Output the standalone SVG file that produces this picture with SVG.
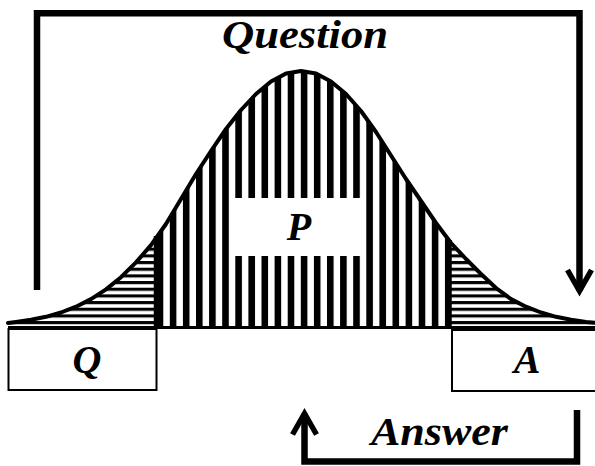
<svg xmlns="http://www.w3.org/2000/svg" xmlns:xlink="http://www.w3.org/1999/xlink" width="595" height="466" viewBox="0 0 595 466">
  <style>
    .lbl { font-family: "Liberation Serif", "Times New Roman", serif; font-weight: bold; font-style: italic; fill: #000; text-anchor: middle; }
    .conn { fill: none; stroke: #000; stroke-width: 6.5; stroke-linejoin: miter; stroke-linecap: butt; }
    .box { fill: #fff; stroke: #000; stroke-width: 2; }
    .edge { stroke: #000; stroke-width: 5.5; }
    .curve { fill: none; stroke: #000; stroke-width: 4; stroke-linejoin: round; stroke-linecap: round; }
  </style>
  <defs>
    <pattern id="vstripes" patternUnits="userSpaceOnUse" x="156.7" y="0" width="13.1" height="10">
      <rect x="0" y="0" width="6.6" height="10" fill="#000"/>
    </pattern>
    <pattern id="hstripes" patternUnits="userSpaceOnUse" x="0" y="247.7" width="10" height="6.67">
      <rect x="0" y="0" width="10" height="3.1" fill="#000"/>
    </pattern>
    <polygon id="area" points="8,323 16,322 31,319.8 46,316.8 61,312.5 76,306.7 91,299.1 106,289.4 121,277.2 136,262.4 151,245.1 166,224 181,199 196,174 211,151 226,129 241,110 256,94 271,81.5 286,73.5 301,71 316,73.5 331,81.5 346,94 361,111 376,132 391,155.5 406,179 421,201 436,223 451,243 466,259 481,274 496,288 511,299.1 526,306.7 541,312.5 556,316.8 571,319.8 586,322 601,323.4 601,328 8,328"/>
    <clipPath id="areaClip"><use xlink:href="#area"/></clipPath>
    <marker id="chev" markerUnits="userSpaceOnUse" viewBox="-28 -16 36 32" markerWidth="36" markerHeight="32" refX="0" refY="0" orient="auto">
      <path d="M -21 -12 L 0 0 L -21 12" fill="none" stroke="#000" stroke-width="5.5" stroke-linejoin="miter"/>
    </marker>
  </defs>

  <rect x="0" y="0" width="595" height="466" fill="#fff"/>

  <g id="distribution">
    <g clip-path="url(#areaClip)">
      <rect x="157" y="60" width="293" height="270" fill="url(#vstripes)"/>
      <rect x="8" y="200" width="149" height="130" fill="url(#hstripes)"/>
      <rect x="450" y="200" width="150" height="130" fill="url(#hstripes)"/>
    </g>
    <line class="edge" x1="156.5" y1="236" x2="156.5" y2="328"/>
    <line class="edge" x1="449" y1="240" x2="449" y2="328"/>
    <polyline class="curve" points="8,323 16,322 31,319.8 46,316.8 61,312.5 76,306.7 91,299.1 106,289.4 121,277.2 136,262.4 151,245.1 166,224 181,199 196,174 211,151 226,129 241,110 256,94 271,81.5 286,73.5 301,71 316,73.5 331,81.5 346,94 361,111 376,132 391,155.5 406,179 421,201 436,223 451,243 466,259 481,274 496,288 511,299.1 526,306.7 541,312.5 556,316.8 571,319.8 586,322 601,323.4"/>
    <line x1="8" y1="327.5" x2="595" y2="327.5" stroke="#000" stroke-width="3"/>
  </g>

  <g id="node-P">
    <rect x="231" y="198" width="134" height="58" fill="#fff"/>
    <text class="lbl" x="299" y="240" font-size="40">P</text>
  </g>

  <g id="node-Q">
    <rect class="box" x="8.5" y="329" width="148" height="61"/>
    <text class="lbl" x="87" y="373" font-size="40">Q</text>
  </g>

  <g id="node-A">
    <rect class="box" x="452" y="330" width="150" height="61"/>
    <text class="lbl" x="527" y="373" font-size="40">A</text>
  </g>

  <g id="connectors">
    <path class="conn" d="M 37 290 L 37 13.3 L 579.5 13.3 L 579.5 291" marker-end="url(#chev)"/>
    <path class="conn" d="M 577 410 L 577 461.5 L 304.5 461.5 L 304.5 413.5" marker-end="url(#chev)"/>
  </g>

  <g id="label-question">
    <text class="lbl" x="305" y="48" font-size="41" textLength="166" lengthAdjust="spacingAndGlyphs">Question</text>
  </g>
  <g id="label-answer">
    <text class="lbl" x="439.5" y="445" font-size="40" textLength="137" lengthAdjust="spacingAndGlyphs">Answer</text>
  </g>
</svg>
